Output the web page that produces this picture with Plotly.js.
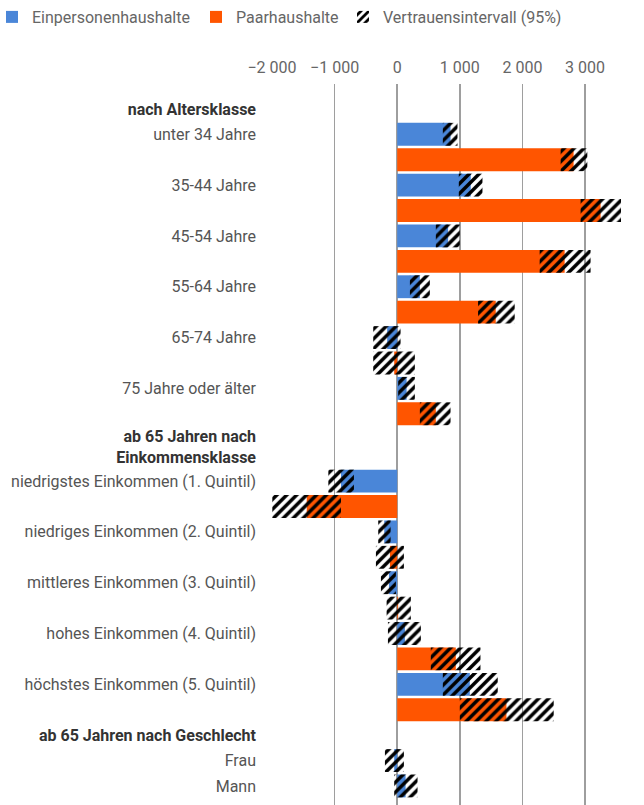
<!DOCTYPE html>
<html><head><meta charset="utf-8">
<script src="https://cdn.plot.ly/plotly-3.0.1.min.js"></script>
<style>html,body{margin:0;padding:0;background:#fff}#chart{width:644px;height:805px}</style>
</head><body><div id="chart"></div>
<script>
// ---- data ----
const groupTitles = ['nach Altersklasse', 'ab 65 Jahren nach<br>Einkommensklasse', 'ab 65 Jahren nach Geschlecht'];
const categories = ['unter 34 Jahre', '35-44 Jahre', '45-54 Jahre', '55-64 Jahre', '65-74 Jahre', '75 Jahre oder älter',
  'niedrigstes Einkommen (1. Quintil)', 'niedriges Einkommen (2. Quintil)', 'mittleres Einkommen (3. Quintil)',
  'hohes Einkommen (4. Quintil)', 'höchstes Einkommen (5. Quintil)', 'Frau', 'Mann'];
const categoryGroup = [0, 0, 0, 0, 0, 0, 1, 1, 1, 1, 1, 2, 2];
const singleValue = [852, 1175, 813, 362, -160, 150, -898, -207, -132, 123, 1160, -48, 134];
const singleLow   = [729, 984, 617, 203, -383, 16, -1100, -303, -260, -148, 729, -196, -48];
const singleHigh  = [963, 1362, 1000, 521, 54, 282, -691, -105, -21, 378, 1606, 107, 325];
const coupleValue = [2818, 3249, 2675, 1574, -48, 617, -1445, -116, 15, 936, 1745, null, null];
const coupleLow   = [2611, 2930, 2276, 1292, -383, 362, -1995, -340, -169, 537, 1000, null, null];
const coupleHigh  = [3037, 3580, 3089, 1877, 282, 852, -898, 107, 218, 1330, 2500, null, null];
const xTickValues = [-2000, -1000, 0, 1000, 2000, 3000];
const xTickLabels = ['\u22122 000', '\u22121 000', '0', '1 000', '2 000', '3 000'];
const seriesNames = ['Einpersonenhaushalte', 'Paarhaushalte', 'Vertrauensintervall (95%)'];

// ---- slot layout ----
const posSingle = [], posCouple = [], tickVals = [], tickText = [];
let prev = -1, lastGroup = -1;
categories.forEach((c, i) => {
  const g = categoryGroup[i];
  if (g !== lastGroup) {
    const lines = groupTitles[g].split('<br>').length;
    tickVals.push(prev + 1 + (lines - 1) * 0.3);
    tickText.push('<b><span style="color:#333">' + groupTitles[g].split('<br>').join('</span></b><br><b><span style="color:#333">') + '</span></b>');
    prev = prev + 2 + (lines - 1) * 0.65 - 1;
    lastGroup = g;
  }
  const ys = prev + 1;
  posSingle.push(ys);
  tickVals.push(ys);
  tickText.push(c);
  if (coupleValue[i] !== null) { posCouple.push(ys + 1); prev = ys + 1; }
  else { posCouple.push(null); prev = ys; }
});

const blue = '#4a86d8', orange = '#ff5500';
const pattern = {shape: '/', fgcolor: '#000', bgcolor: 'rgba(0,0,0,0)', size: 7, solidity: 0.5};
const idx = categories.map((_, i) => i);
const cIdx = idx.filter(i => coupleValue[i] !== null);

const traces = [
  {type: 'bar', orientation: 'h', name: seriesNames[0], legend: 'legend', y: posSingle, x: singleValue, width: 0.9,
   marker: {color: blue, line: {width: 0}}, hoverinfo: 'skip'},
  {type: 'bar', orientation: 'h', name: seriesNames[1], legend: 'legend2', y: cIdx.map(i => posCouple[i]), x: cIdx.map(i => coupleValue[i]), width: 0.9,
   marker: {color: orange, line: {width: 0}}, hoverinfo: 'skip'},
  {type: 'bar', orientation: 'h', name: seriesNames[2], legend: 'legend3', y: posSingle, base: singleLow, x: idx.map(i => singleHigh[i] - singleLow[i]), width: 0.9,
   marker: {color: 'rgba(0,0,0,0)', line: {width: 0}, pattern: pattern}, hoverinfo: 'skip'},
  {type: 'bar', orientation: 'h', name: seriesNames[2], showlegend: false, y: cIdx.map(i => posCouple[i]), base: cIdx.map(i => coupleLow[i]),
   x: cIdx.map(i => coupleHigh[i] - coupleLow[i]), width: 0.9,
   marker: {color: 'rgba(0,0,0,0)', line: {width: 0}, pattern: pattern}, hoverinfo: 'skip'}
];

const plotLeft = 272, plotWidth = 349;
function legendAt(px) {
  return {orientation: 'h', xref: 'paper', yref: 'container', x: (px - plotLeft) / plotWidth, y: 1, xanchor: 'left', yanchor: 'top',
    font: {family: 'Roboto, sans-serif', size: 16, color: '#666'}, itemwidth: 30, bgcolor: 'rgba(0,0,0,0)', borderwidth: 0};
}

const layout = {
  width: 644, height: 805,
  margin: {l: plotLeft, r: 644 - plotLeft - plotWidth, t: 84, b: 0, pad: 0, autoexpand: false},
  paper_bgcolor: '#fff', plot_bgcolor: '#fff',
  font: {family: 'Roboto, sans-serif', size: 16, color: '#555'},
  barmode: 'overlay',
  showlegend: true,
  legend: legendAt(-8),
  legend2: legendAt(196),
  legend3: legendAt(343),
  xaxis: {side: 'top', range: [-2000, 3575], tickvals: xTickValues, ticktext: xTickLabels,
    showgrid: true, gridcolor: '#9e9e9e', gridwidth: 1.5, zeroline: true, zerolinecolor: '#9e9e9e', zerolinewidth: 1.5,
    ticks: '', ticklabelstandoff: 7, tickfont: {family: 'Roboto, sans-serif', size: 16, color: '#666'}, fixedrange: true},
  yaxis: {range: [27.4, -0.98], tickvals: tickVals, ticktext: tickText, showgrid: false, zeroline: false,
    ticks: '', ticklabelstandoff: 15, tickfont: {family: 'Roboto, sans-serif', size: 16, color: '#555'}, fixedrange: true}
};

Plotly.newPlot('chart', traces, layout, {displayModeBar: false, staticPlot: true});
</script>
</body></html>
